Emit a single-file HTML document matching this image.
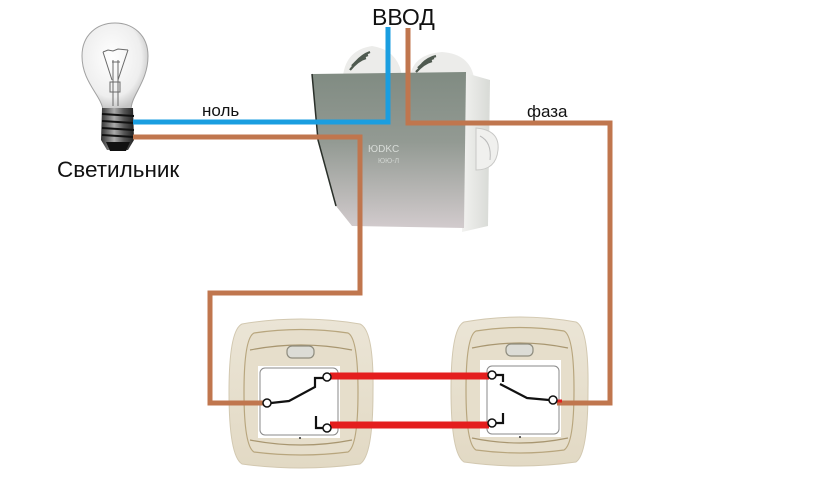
<!DOCTYPE html>
<html><head><meta charset="utf-8"><style>
html,body{margin:0;padding:0;background:#fff;}
svg{display:block;}
text{font-family:"Liberation Sans",sans-serif;fill:#111;}
</style></head><body>
<svg width="840" height="480" viewBox="0 0 840 480" xmlns="http://www.w3.org/2000/svg">
<defs>
<linearGradient id="box" x1="0" y1="0" x2="0" y2="1">
<stop offset="0" stop-color="#808b82"/><stop offset="0.45" stop-color="#939a93"/><stop offset="1" stop-color="#d2cbcd"/>
</linearGradient>
<linearGradient id="boxr" x1="0" y1="0" x2="1" y2="0">
<stop offset="0" stop-color="#f2f2f0"/><stop offset="1" stop-color="#d8dad6"/>
</linearGradient>
<radialGradient id="glass" cx="0.45" cy="0.4" r="0.6">
<stop offset="0" stop-color="#ffffff"/><stop offset="0.75" stop-color="#eeeeee"/><stop offset="1" stop-color="#c4c4c4"/>
</radialGradient>
<linearGradient id="base" x1="0" y1="0" x2="1" y2="0">
<stop offset="0" stop-color="#333"/><stop offset="0.4" stop-color="#aaa"/><stop offset="0.7" stop-color="#555"/><stop offset="1" stop-color="#222"/>
</linearGradient>
<linearGradient id="plate" x1="0" y1="0" x2="0" y2="1">
<stop offset="0" stop-color="#ebe5d6"/><stop offset="1" stop-color="#e2d9c4"/>
</linearGradient>
</defs>

<!-- Lamp -->
<path d="M103,110 C101,95 82,82 82,56 C82,35 97,23 115,23 C133,23 148,35 148,56 C148,82 131,95 131,110 Z" fill="url(#glass)" stroke="#a0a0a0" stroke-width="1"/>
<g stroke="#6a6a6a" stroke-width="1" fill="none">
<path d="M103,52 L108,50 L113,51 L118,49 L128,50"/>
<path d="M103,52 L112,80 M128,50 L118,80"/>
<path d="M113,60 L113,106 M118,60 L118,106"/>
<rect x="110" y="82" width="10" height="10"/>
<path d="M112,62 L120,62"/>
</g>
<path d="M102,108 L133,108 L134,140 L128,150 L107,150 L101,140 Z" fill="url(#base)"/>
<g stroke="#111" stroke-width="2">
<path d="M102,114 L134,116 M102,121 L134,123 M102,128 L134,130 M102,135 L134,137"/>
</g>
<path d="M106,142 L130,142 L126,151 L110,151 Z" fill="#111"/>

<!-- Junction box -->
<path d="M343,76 Q346,50 372,46 Q398,50 402,76 Z" fill="#ececea"/>
<g stroke="#4f5a50" stroke-width="2.2" fill="none">
<path d="M350,70 Q358,60 366,58 M352,66 Q360,57 368,55 M356,62 Q362,55 370,52"/>
</g>
<path d="M410,76 Q414,54 442,52 Q470,54 474,78 Z" fill="#ececea"/>
<g stroke="#4f5a50" stroke-width="2.2" fill="none">
<path d="M416,72 Q424,63 432,61 M418,68 Q426,60 434,58 M422,64 Q428,58 436,56"/>
</g>
<path d="M462,72 L490,80 L488,226 L462,232 Z" fill="url(#boxr)"/>
<path d="M476,128 Q500,130 498,150 Q496,170 476,170 Z" fill="#f0f0ee" stroke="#c8c8c6" stroke-width="1"/>
<path d="M480,136 Q492,142 490,160" stroke="#bbb" fill="none"/>
<path d="M312,74 L466,72 L464,228 L352,226 L336,206 L318,140 Z" fill="url(#box)"/>
<path d="M312,74 L318,140 L336,206" stroke="#2a302a" stroke-width="1.5" fill="none"/>
<text x="368" y="152" font-size="10" font-family="Liberation Serif, serif" style="fill:#d8dcd8">ЮDKC</text>
<text x="378" y="163" font-size="7" style="fill:#d0d4d0">ЮЮ-Л</text>

<!-- Switch plates -->
<g>
<path d="M242,324 Q301,314 360,324 Q374,330 373,392 Q373,456 360,464 Q301,472 242,464 Q229,456 229,392 Q229,330 242,324 Z" fill="url(#plate)" stroke="#d2c8b0" stroke-width="1"/>
<path d="M254,333 Q301,326 348,333 Q358,338 358,392 Q358,446 348,452 Q301,458 254,452 Q244,446 244,392 Q244,338 254,333 Z" fill="#e6decb" stroke="#b8a67e" stroke-width="1.2"/>
<path d="M250,350 Q301,340 352,350" stroke="#a89670" stroke-width="1.2" fill="none"/>
<path d="M250,440 Q301,450 352,440" stroke="#a89670" stroke-width="1.2" fill="none"/>
<rect x="287" y="346" width="27" height="12" rx="5" fill="#dcdcd6" stroke="#8e8c7e" stroke-width="1.2"/>
<rect x="258" y="366" width="82" height="72" fill="#fff"/>
<rect x="260" y="368" width="78" height="67" rx="5" fill="#fff" stroke="#888" stroke-width="1"/>
<circle cx="300" cy="438" r="1" fill="#333"/>
</g>
<g>
<path d="M464,322 Q520,312 576,322 Q589,328 588,390 Q588,454 576,462 Q520,470 464,462 Q451,454 451,390 Q451,328 464,322 Z" fill="url(#plate)" stroke="#d2c8b0" stroke-width="1"/>
<path d="M476,331 Q520,324 564,331 Q574,336 574,390 Q574,444 564,450 Q520,456 476,450 Q466,444 466,390 Q466,336 476,331 Z" fill="#e6decb" stroke="#b8a67e" stroke-width="1.2"/>
<path d="M472,348 Q520,338 568,348" stroke="#a89670" stroke-width="1.2" fill="none"/>
<path d="M472,438 Q520,448 568,438" stroke="#a89670" stroke-width="1.2" fill="none"/>
<rect x="506" y="344" width="27" height="12" rx="5" fill="#dcdcd6" stroke="#8e8c7e" stroke-width="1.2"/>
<rect x="480" y="360" width="81" height="77" fill="#fff"/>
<rect x="487" y="366" width="72" height="68" rx="5" fill="#fff" stroke="#888" stroke-width="1"/>
<circle cx="520" cy="437" r="1" fill="#333"/>
</g>

<!-- Wires -->
<g fill="none" stroke-linejoin="miter" stroke-linecap="butt">
<path d="M133,122 L388,122 L388,27" stroke="#1a9ee0" stroke-width="5"/>
<path d="M133,137 L360,137 L360,293 L210,293 L210,403 L264,403" stroke="#c0764e" stroke-width="5"/>
<path d="M408,28 L408,123 L610,123 L610,403 L557,403" stroke="#c0764e" stroke-width="5"/>
<path d="M330,376 L489,376" stroke="#e41e1e" stroke-width="7"/>
<path d="M330,425 L489,425" stroke="#e41e1e" stroke-width="7"/>
<path d="M557,401 L562,401" stroke="#e41e1e" stroke-width="3"/>
</g>

<!-- Switch contacts -->
<g stroke="#111" stroke-width="2.2" fill="none">
<path d="M271,403 L289,401 L315,387 L315,378 L323,378"/>
<path d="M316,416 L316,428 L323,428"/>
<path d="M496,375 L503,375 L503,382 M500,384 L527,398 L549,400"/>
<path d="M496,423 L503,423 L503,413"/>
</g>
<g fill="#fff" stroke="#111" stroke-width="1.5">
<circle cx="267" cy="403" r="4"/>
<circle cx="327" cy="377" r="4"/>
<circle cx="327" cy="428" r="4"/>
<circle cx="492" cy="375" r="4"/>
<circle cx="492" cy="423" r="4"/>
<circle cx="553" cy="400" r="4"/>
</g>

<!-- Labels -->
<text x="372" y="25" font-size="23">ВВОД</text>
<text x="202" y="116" font-size="17">ноль</text>
<text x="527" y="117" font-size="17">фаза</text>
<text x="57" y="177" font-size="22.5">Светильник</text>
</svg>
</body></html>
